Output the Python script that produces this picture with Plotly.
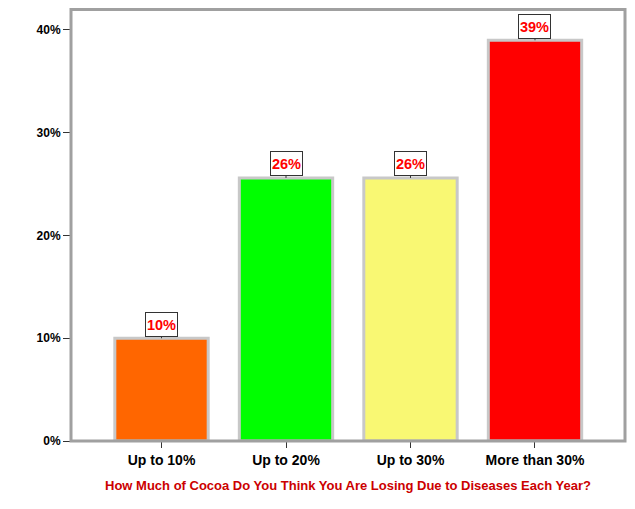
import plotly.graph_objects as go

categories = ["Up to 10%", "Up to 20%", "Up to 30%", "More than 30%"]
values = [10.0, 25.6, 25.6, 39.0]
labels = ["10%", "26%", "26%", "39%"]
colors = ["#ff6600", "#00ff00", "#f9f873", "#ff0000"]
y_ticks = [0, 10, 20, 30, 40]
y_tick_labels = ["0%", "10%", "20%", "30%", "40%"]
x_title = "How Much of Cocoa Do You Think You Are Losing Due to Diseases Each Year?"

FONT = "Liberation Sans Narrow, Arial Narrow, Liberation Sans, Arial, sans-serif"

fig = go.Figure()
fig.add_trace(go.Bar(
    x=list(range(len(categories))),
    y=values,
    width=0.75,
    marker=dict(color=colors, line=dict(color="#c8c8c8", width=3)),
    hoverinfo="skip",
))

for i, (v, lab) in enumerate(zip(values, labels)):
    fig.add_annotation(
        x=i, y=v, xref="x", yref="y",
        text="<b>" + lab + "</b>",
        showarrow=True, arrowhead=0, arrowwidth=1, arrowcolor="#333333",
        ax=0, ay=-14, standoff=0,
        width=29, height=21,
        font=dict(family=FONT, size=14.5, color="#ff0000"),
        bgcolor="white", bordercolor="#333333", borderwidth=1, borderpad=1,
    )

PLOT_H = 493 - 0 - 60
# plot frame
fig.add_shape(type="rect", xref="paper", yref="paper",
              x0=0, x1=1, y0=0, y1=1 - 1.5 / PLOT_H,
              line=dict(color="#a0a0a0", width=3), fillcolor="rgba(0,0,0,0)",
              layer="above")

fig.update_layout(
    width=619, height=493,
    margin=dict(l=63, r=2, t=0, b=60, autoexpand=False),
    paper_bgcolor="white", plot_bgcolor="white",
    showlegend=False,
    font=dict(family=FONT, color="black"),
    xaxis=dict(
        range=[-0.727, 3.723],
        tickmode="array",
        tickvals=list(range(len(categories))),
        ticktext=["<b>" + c + "</b>" for c in categories],
        tickfont=dict(family=FONT, size=14, color="black"),
        ticks="outside", ticklen=6, tickcolor="#333333", tickwidth=1,
        showline=False,
        showgrid=False, zeroline=False, automargin=False,
        title=dict(text="<b>" + x_title + "</b>",
                   font=dict(family=FONT, size=13, color="#cc0000"),
                   standoff=14),
    ),
    yaxis=dict(
        range=[0, 42.14],
        tickmode="array",
        tickvals=y_ticks,
        ticktext=["<b>" + t + "</b>" for t in y_tick_labels],
        tickfont=dict(family=FONT, size=12, color="black"),
        ticks="outside", ticklen=7, tickcolor="#333333", tickwidth=1,
        showline=False,
        showgrid=False, zeroline=False, automargin=False,
    ),
)

fig.write_html("out.html")
